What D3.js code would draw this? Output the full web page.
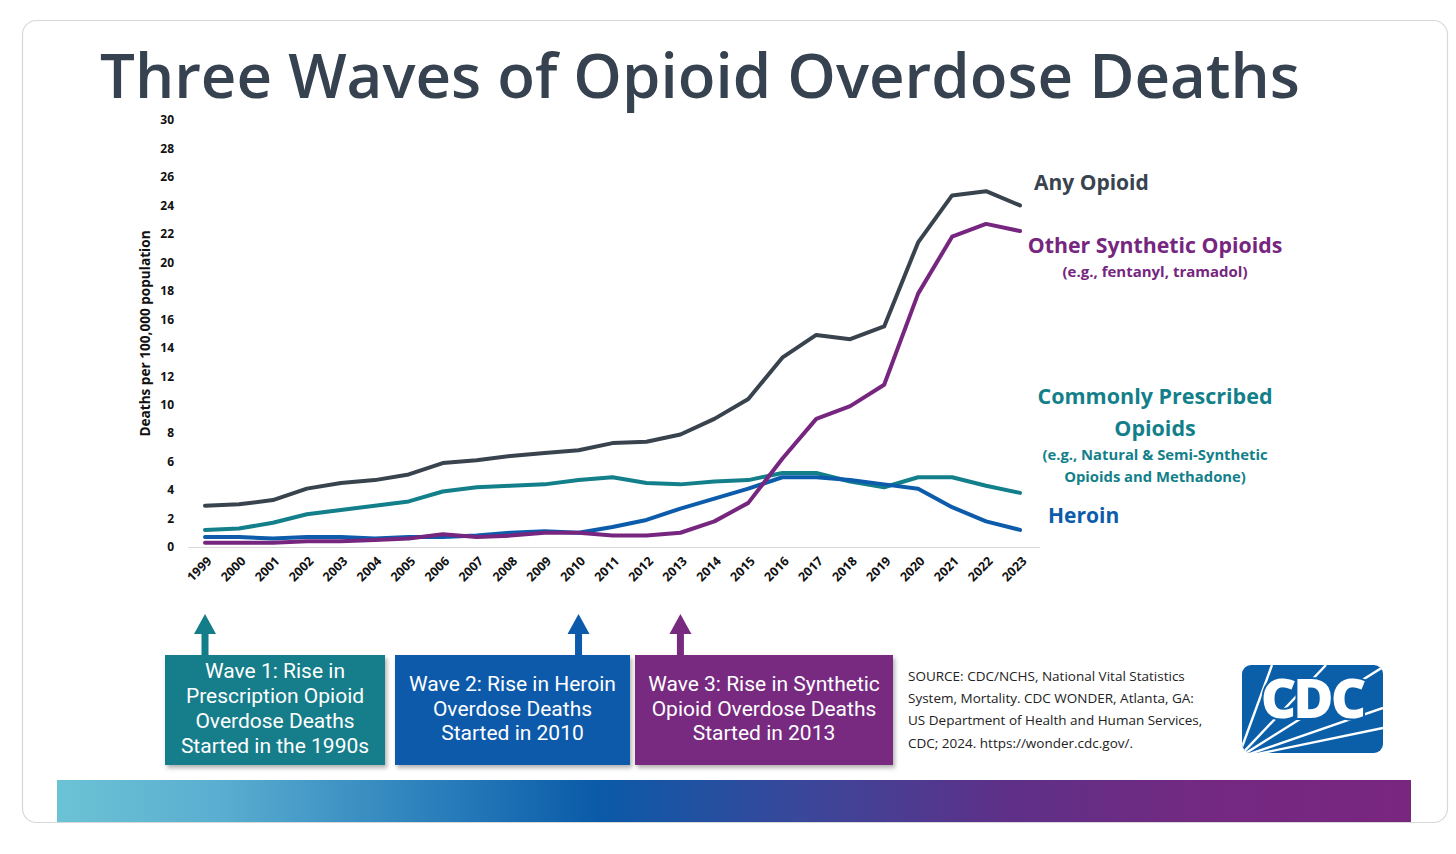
<!DOCTYPE html>
<html><head><meta charset="utf-8">
<script src="https://cdn.jsdelivr.net/npm/d3@7"></script>
<style>
html,body{margin:0;padding:0;background:#fff;}
svg{display:block;}
</style></head>
<body>
<svg id="c" width="1456" height="854"></svg>
<script>
const years = d3.range(1999, 2024);
const anyOpioid = [2.9,3.0,3.3,4.1,4.5,4.7,5.1,5.9,6.1,6.4,6.6,6.8,7.3,7.4,7.9,9.0,10.4,13.3,14.9,14.6,15.5,21.4,24.7,25.0,24.0];
const synthetic = [0.3,0.3,0.3,0.4,0.4,0.5,0.6,0.9,0.7,0.8,1.0,1.0,0.8,0.8,1.0,1.8,3.1,6.2,9.0,9.9,11.4,17.8,21.8,22.7,22.2];
const prescribed = [1.2,1.3,1.7,2.3,2.6,2.9,3.2,3.9,4.2,4.3,4.4,4.7,4.9,4.5,4.4,4.6,4.7,5.2,5.2,4.6,4.2,4.9,4.9,4.3,3.8];
const heroin = [0.7,0.7,0.6,0.7,0.7,0.6,0.7,0.7,0.8,1.0,1.1,1.0,1.4,1.9,2.7,3.4,4.1,4.9,4.9,4.7,4.4,4.1,2.8,1.8,1.2];
const yTicks = d3.range(0, 31, 2);
const waves = [
  {year:1999, lines:["Wave 1: Rise in","Prescription Opioid","Overdose Deaths","Started in the 1990s"], color:"#137d8a"},
  {year:2010, lines:["Wave 2: Rise in Heroin","Overdose Deaths","Started in 2010"], color:"#0b5aab"},
  {year:2013, lines:["Wave 3: Rise in Synthetic","Opioid Overdose Deaths","Started in 2013"], color:"#772a80"}
];
const sourceLines = ["SOURCE: CDC/NCHS, National Vital Statistics","System, Mortality. CDC WONDER, Atlanta, GA:","US Department of Health and Human Services,","CDC; 2024. https://wonder.cdc.gov/."];

const C = {any:"#38434e", syn:"#76267f", pre:"#127f8a", her:"#0c5cab"};
const svg = d3.select("#c");
const font = "'Open Sans', 'Noto Sans', sans-serif";

// card
svg.append("rect").attr("x",22.5).attr("y",20.5).attr("width",1425).attr("height",802)
  .attr("rx",14).attr("fill","#fff").attr("stroke","#d8d8d8").attr("stroke-width",1.2);

// title
const title = svg.append("text").attr("x",100).attr("y",98).attr("fill","#36424f")
  .attr("font-family",font).attr("font-weight",600).attr("font-size",60)
  .text("Three Waves of Opioid Overdose Deaths");
{ const w = title.node().getComputedTextLength(); title.attr("font-size", 60*1200/w); }

const x = d3.scaleLinear().domain([1999,2023]).range([205,1020]);
const y = d3.scaleLinear().domain([0,30]).range([547,120]);

// baseline
svg.append("line").attr("x1",188).attr("x2",1040).attr("y1",y(0)+0.5).attr("y2",y(0)+0.5)
  .attr("stroke","#d9d9d9").attr("stroke-width",1);

// y axis
const yAxis = svg.append("g").attr("transform","translate(174,0)")
  .call(d3.axisLeft(y).tickValues(yTicks).tickSize(0).tickPadding(0));
yAxis.select(".domain").remove();
yAxis.selectAll("text").attr("font-family",font).attr("font-weight",700).attr("font-size",12).attr("fill","#111");

svg.append("text").attr("transform",`translate(150,${y(15)}) rotate(-90)`).attr("text-anchor","middle")
  .attr("font-family",font).attr("font-weight",700).attr("font-size",13.6).attr("fill","#111")
  .text("Deaths per 100,000 population");

// x axis
const xAxis = svg.append("g").attr("transform",`translate(0,${y(0)+6})`)
  .call(d3.axisBottom(x).tickValues(years).tickFormat(d3.format("d")).tickSize(0).tickPadding(0));
xAxis.select(".domain").remove();
xAxis.selectAll("text").attr("font-family",font).attr("font-weight",700).attr("font-size",12.5).attr("fill","#111")
  .attr("text-anchor","end").attr("dy",0).attr("transform","translate(7,9) rotate(-45)");

// lines
const line = d3.line().x((d,i)=>x(years[i])).y(d=>y(d)).curve(d3.curveLinear);
[[prescribed,C.pre],[heroin,C.her],[synthetic,C.syn],[anyOpioid,C.any]].forEach(([s,c])=>{
  svg.append("path").datum(s).attr("d",line).attr("fill","none").attr("stroke",c)
    .attr("stroke-width",4).attr("stroke-linejoin","round").attr("stroke-linecap","round");
});

// series labels
function lab(t,xx,yy,size,color,anchor){
  svg.append("text").attr("x",xx).attr("y",yy).attr("text-anchor",anchor||"middle").attr("dominant-baseline","middle")
    .attr("font-family",font).attr("font-weight",700).attr("font-size",size).attr("fill",color).text(t);
}
lab("Any Opioid",1034,184,21,C.any,"start");
lab("Other Synthetic Opioids",1155,247,21.3,C.syn);
lab("(e.g., fentanyl, tramadol)",1155,273,15,C.syn);
lab("Commonly Prescribed",1155,398,21.5,C.pre);
lab("Opioids",1155,430,21.5,C.pre);
lab("(e.g., Natural & Semi-Synthetic",1155,456,14.8,C.pre);
lab("Opioids and Methadone)",1155,478,14.8,C.pre);
lab("Heroin",1048,517,21,C.her,"start");

// shadow filter
const defs = svg.append("defs");
const f = defs.append("filter").attr("id","sh").attr("x","-10%").attr("y","-10%").attr("width","130%").attr("height","130%");
f.append("feDropShadow").attr("dx",2).attr("dy",3).attr("stdDeviation",2).attr("flood-color","#000").attr("flood-opacity",0.3);

// wave boxes
const boxes = [[165,385],[395,630],[635,893]];
waves.forEach((w,i)=>{
  const [b0,b1] = boxes[i];
  const ax = x(w.year);
  svg.append("rect").attr("x",ax-3.5).attr("y",633).attr("width",7).attr("height",23).attr("fill",w.color);
  svg.append("path").attr("d",`M${ax-11},634 L${ax},614 L${ax+11},634 Z`).attr("fill",w.color);
  svg.append("rect").attr("x",b0).attr("y",655).attr("width",b1-b0).attr("height",110).attr("fill",w.color).attr("filter","url(#sh)");
  const n = w.lines.length, lh = 24.7;
  const cy = 710 - (n-1)*lh/2;
  w.lines.forEach((t,j)=>{
    const tx = svg.append("text").attr("x",(b0+b1)/2).attr("y",cy+j*lh).attr("text-anchor","middle").attr("dominant-baseline","middle")
      .attr("font-family","Roboto, 'Open Sans', sans-serif").attr("font-weight",400).attr("font-size",21).attr("fill","#fff").text(t);
    const tw = tx.node().getComputedTextLength();
    if (tw > b1-b0-12) tx.attr("textLength", b1-b0-12).attr("lengthAdjust","spacingAndGlyphs");
  });
});

// source
sourceLines.forEach((t,i)=>{
  svg.append("text").attr("x",908).attr("y",677+i*22.3).attr("dominant-baseline","middle")
    .attr("font-family",font).attr("font-size",13.5).attr("fill","#222").text(t);
});

// CDC logo
const lg = svg.append("g");
const clip = defs.append("clipPath").attr("id","lgc");
clip.append("rect").attr("x",1242).attr("y",665).attr("width",141).attr("height",88).attr("rx",9);
lg.append("rect").attr("x",1242).attr("y",665).attr("width",141).attr("height",88).attr("rx",9).attr("fill","#0b5ea8");
const rays = [[1272,665],[1326,665],[1383,667],[1383,708],[1383,728]];
rays.forEach(([ex,ey])=>{
  lg.append("line").attr("x1",1238).attr("y1",758).attr("x2",ex).attr("y2",ey)
    .attr("stroke","#fff").attr("stroke-width",2.4).attr("clip-path","url(#lgc)");
});
lg.append("text").attr("x",1312).attr("y",703).attr("text-anchor","middle").attr("dominant-baseline","middle")
  .attr("font-family","'Open Sans', sans-serif").attr("font-weight",800).attr("font-size",55).attr("fill","#fff")
  .attr("stroke","#0b5ea8").attr("stroke-width",4).attr("paint-order","stroke").attr("letter-spacing",-3).text("CDC");

// gradient bar
const g = defs.append("linearGradient").attr("id","bar").attr("x1","0%").attr("x2","100%");
[["0%","#6cc2d5"],["12%","#5aaed0"],["28%","#2a7fbb"],["40%","#0a5aa8"],["55%","#3a479a"],["70%","#5e3088"],["85%","#742981"],["100%","#79267f"]]
  .forEach(([o,c])=>g.append("stop").attr("offset",o).attr("stop-color",c));
svg.append("rect").attr("x",57).attr("y",780).attr("width",1354).attr("height",42).attr("fill","url(#bar)");
</script>
</body></html>
